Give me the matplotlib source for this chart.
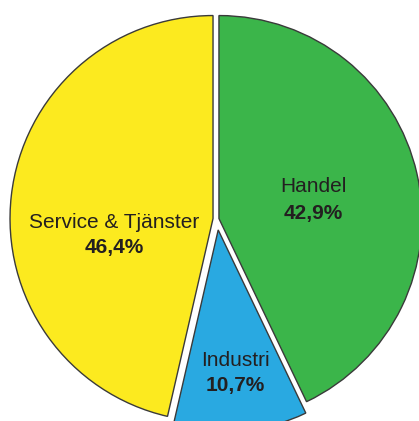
import matplotlib.pyplot as plt

plt.rcParams['font.family'] = ['Liberation Sans', 'DejaVu Sans']

# sector shares (percent), clockwise from 12 o'clock
sectors = ['Handel', 'Industri', 'Service & Tjänster']
shares = [42.9, 10.7, 46.4]
colors = ['#3bb54a', '#29a9e1', '#fcea1f']
explode = [2, 11, 4]

# label anchor points (pixels, y up)
label_pos = [(313, 234), (235, 61), (114, 199)]

fig = plt.figure(figsize=(4.19, 4.21), dpi=100)
ax = fig.add_axes([0, 0, 1, 1])

ax.pie(shares, colors=colors, explode=explode, center=(217, 202), radius=203,
       startangle=90, counterclock=False,
       wedgeprops=dict(edgecolor='#3a3a3a', linewidth=1.0))

for name, val, (x, y) in zip(sectors, shares, label_pos):
    pct = f'{val:.1f}'.replace('.', ',') + '%'
    ax.text(x, y, name, ha='center', va='center', fontsize=15, color='#231f20')
    ax.text(x, y - 26, pct, ha='center', va='center', fontsize=15,
            fontweight='bold', color='#231f20')

ax.set_xlim(0, 419)
ax.set_ylim(0, 421)
ax.set_aspect('equal')
ax.axis('off')

fig.savefig('out.png', dpi=100, facecolor='white')
